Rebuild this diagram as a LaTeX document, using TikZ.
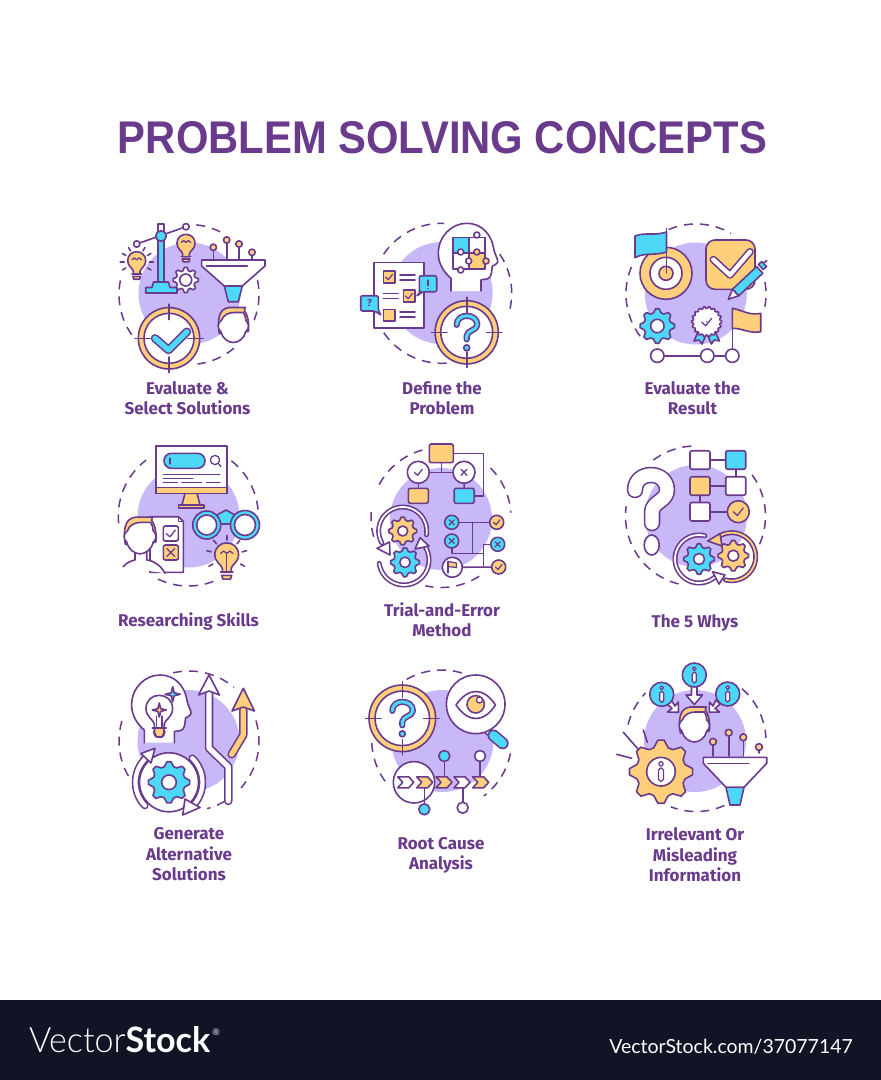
\documentclass[tikz,border=0pt]{standalone}
\usepackage{fontspec}
\usepackage{graphicx}
\setmainfont{Fira Sans}
\newfontfamily\ttlfont{Liberation Sans}
\newfontfamily\logofont{Lato}
\newfontfamily\logolight{Lato Light}
\definecolor{pur}{HTML}{6A3A8C}
\definecolor{cy}{HTML}{4ED8F8}
\definecolor{ye}{HTML}{FFCF7B}
\definecolor{lav}{HTML}{C9B8F7}
\definecolor{foot}{HTML}{111425}
\tikzset{
 ln/.style={draw=pur,line width=1.6pt,line join=round,line cap=round},
 thn/.style={draw=pur,line width=1.25pt,line join=round,line cap=round},
 dsh/.style={draw=pur,line width=1.5pt,dash pattern=on 9pt off 7pt},
 lab/.style={text=pur,inner sep=0pt,align=center,font=\fontsize{17}{20.5}\selectfont\bfseries},
 fbox/.style={ln,rectangle,rounded corners=2pt,inner sep=0pt,minimum width=#1},
 fbox/.default=20pt,
 cnode/.style={ln,circle,inner sep=0pt,minimum size=#1},
}
% arc as a plot, angles clockwise on the page from the right
\newcommand\arcp[5]{plot[domain=#4:#5,samples=40]({#1+#3*cos(\x)},{#2+#3*sin(\x)})}
\newcommand\ol[3]{\draw[pur,line width=#2pt,line cap=round,line join=round] #3; \draw[#1,line width=#2pt-3.2pt,line cap=round,line join=round] #3;}
\newcommand\blob[2]{\fill[lav] (#1,#2) circle[radius=51pt];}
\newcommand\dc[3]{\foreach \aa/\bb in {#3}{\draw[dsh] \arcp{#1}{#2}{70}{\aa}{\bb};}}
\newcommand\iGear[7]{% cx cy R r hole n fill
 \pgfmathtruncatemacro\gN{4*#6-1}
 \draw[ln,fill=#7] plot[samples at={0,1,...,\gN}]
  ({#1+ifthenelse(mod(\x,4)<1.5,#3,#4)*cos(\x*90/#6-45/#6)},{#2+ifthenelse(mod(\x,4)<1.5,#3,#4)*sin(\x*90/#6-45/#6)}) -- cycle;
 \draw[ln,fill=white] (#1,#2) circle[radius=#5pt];}
\newcommand\iTarget[4]{%
 \draw[ln,fill=ye] (#1,#2) circle[radius=#3pt];
 \draw[ln,fill=white] (#1,#2) circle[radius=#4pt];
 \foreach \aa in {0,90,180,270}{\draw[ln] ({#1+(#3+3.5)*cos(\aa)},{#2+(#3+3.5)*sin(\aa)}) -- ({#1+(#3-12)*cos(\aa)},{#2+(#3-12)*sin(\aa)});}}
\newcommand\iBulb[4]{\begin{scope}[shift={(#1,#2)},scale=#3]
 \draw[ln,fill=#4] (-3.5,13) -- (-3.5,10) .. controls (-4,7) and (-9.5,5) .. (-9.5,-1) .. controls (-9.5,-7) and (-5,-10.5) .. (0,-10.5) .. controls (5,-10.5) and (9.5,-7) .. (9.5,-1) .. controls (9.5,5) and (4,7) .. (3.5,10) -- (3.5,13) -- cycle;
 \draw[ln] (-5,13) -- (5,13);
 \draw[ln,fill=#4] (-4,15.5) -- (4,15.5) -- (3,18.5) -- (-3,18.5) -- cycle;
\end{scope}}
\newcommand\iFil[3]{\begin{scope}[shift={(#1,#2)},scale=#3]
 \draw[thn] (-5,-2) -- (-2.5,-4) -- (0,-2) -- (2.5,-4) -- (5,-2);
\end{scope}}
\newcommand\iPerson[3]{\begin{scope}[shift={(#1,#2)},scale=#3]
 \draw[ln,fill=ye] (-14,8) .. controls (-16,-5) and (-15,-17) .. (-4,-18) -- (12,-18) -- (11,-15) .. controls (15,-10) and (16,0) .. (15,6) -- cycle;
 \draw[ln,fill=white] (-12,-5) .. controls (-10,-11) and (-4,-13) .. (1,-13) -- (10,-13) .. controls (12,-10) and (12.5,-7) .. (12.5,-5) .. controls (16,-3) and (16,4) .. (12.5,6) .. controls (11,13) and (5,17) .. (0,17) .. controls (-5,17) and (-11,13) .. (-12.5,6) .. controls (-16,4) and (-16,-3) .. (-12,-5) -- cycle;
\end{scope}}
\newcommand\iHead[2]{\begin{scope}[shift={(#1,#2)}]
 \draw[ln,fill=white] (-15.7,67.7) -- (-15.7,55) .. controls (-23,49) and (-28.4,40) .. (-28.4,30) .. controls (-28.4,13) and (-15,0) .. (0,0) .. controls (14,0) and (24,10) .. (26.6,23.4) .. controls (27,30) and (32,36) .. (31,39) .. controls (30,42) and (26,42) .. (25.5,43) .. controls (25,48) and (25,54) .. (21,55.5) -- (14.3,56.5) -- (14.3,67.7);
\end{scope}}
\newcommand\iFunnel[4]{\begin{scope}[shift={(#1,#2)}]
 \draw[ln,fill=white] (-31.7,0) -- (31.7,0) -- (31.7,6) -- (9,#3) -- (-9,#3) -- (-31.7,6) -- cycle;
 \draw[ln,fill=cy] (-9,#3) -- (9,#3) -- (5,#4) -- (-5,#4) -- cycle;
 \draw[ln] (-27,6) -- (14,6);
\end{scope}}
\newcommand\iBall[4]{\draw[ln] (#1,#2) -- (#1,#3); \draw[ln,fill=ye] (#1,#2) circle[radius=#4pt];}
\newcommand\iQ[3]{\begin{scope}[shift={(#1,#2)},scale=#3]
 \ol{cy}{6.2}{(-10,-7.5) .. controls (-10,-13) and (-5.5,-16.5) .. (0,-16.5) .. controls (6,-16.5) and (10.6,-13) .. (10.6,-7.5) .. controls (10.6,-2) and (0,-2) .. (0,3.5) -- (0,7)}
 \draw[ln,fill=cy] (0,15.5) circle[radius=3pt];
\end{scope}}
\newcommand\ck[3]{\draw[thn] ({#1-#3},#2) -- ({#1-.2*#3},{#2+.75*#3}) -- ({#1+#3},{#2-.75*#3});}
\newcommand\xm[3]{\draw[thn] ({#1-#3},{#2-#3}) -- ({#1+#3},{#2+#3}) ({#1-#3},{#2+#3}) -- ({#1+#3},{#2-#3});}
\newcommand\iStar[4]{\begin{scope}[shift={(#1,#2)},scale=#3]
 \draw[ln,fill=#4] (0,-1) -- (.2,-.2) -- (1,0) -- (.2,.2) -- (0,1) -- (-.2,.2) -- (-1,0) -- (-.2,-.2) -- cycle;
\end{scope}}
\newcommand\iInfo[3]{\begin{scope}[shift={(#1,#2)},scale=#3]
 \draw[thn,fill=white] (0,-6.5) circle[radius=1.8pt];
 \draw[thn,fill=white,rounded corners=1.9pt] (-2,-3) rectangle (2,8);
\end{scope}}
\newcommand\iChev[3]{\draw[ln,fill=#3] (#1,{#2-5.5}) -- ({#1+11},{#2-5.5}) -- ({#1+16},#2) -- ({#1+11},{#2+5.5}) -- (#1,{#2+5.5}) -- ({#1+5},#2) -- cycle;}
\begin{document}
\begin{tikzpicture}[x=1pt,y=-1pt]
\useasboundingbox (0,0) rectangle (881,1080);
\fill[white] (0,0) rectangle (881,1080);
\fill[foot] (0,1000) rectangle (881,1080);

% ---------- titles ----------
\node[inner sep=0pt,anchor=south,text=pur] (title) at (442.5,154.5) {\resizebox{649pt}{32pt}{\ttlfont\bfseries PROBLEM SOLVING CONCEPTS}};
\node[lab] (t1) at (187.5,398) {Evaluate \&\\Select Solutions};
\node[lab] (t2) at (442,398) {Define the\\Problem};
\node[lab] (t3) at (692.5,398) {Evaluate the\\Result};
\node[lab] (t4) at (188.5,621) {Researching Skills};
\node[lab] (t5) at (442,619.5) {Trial-and-Error\\Method};
\node[lab] (t6) at (695,622.5) {The 5 Whys};
\node[lab] (t7) at (189,854.5) {Generate\\Alternative\\Solutions};
\node[lab] (t8) at (441,855.5) {Root Cause\\Analysis};
\node[lab] (t9) at (695,855) {Irrelevant Or\\Misleading\\Information};
\node[inner sep=0pt,anchor=south west,text=white] (logo) at (29,1053.3) {\resizebox{181pt}{26pt}{{\logolight Vector}{\logofont\bfseries Stock}}};
\node[inner sep=0pt,text=white,font=\logofont\fontsize{9}{9}\selectfont] (reg) at (216,1032) {®};
\node[inner sep=0pt,anchor=base east,text=white] (vsurl) at (853,1053.3) {\resizebox{243.5pt}{!}{\logofont VectorStock.com/37077147}};

% ---------- 1 Evaluate & Select ----------
\blob{189.5}{293.5}
\dc{189}{294.5}{-84/-62,-12/22,50/83,145/195}
\iGear{185.7}{280}{12.7}{9.6}{6}{8}{white}
% lever
\draw[ln] (136.7,244) -- (186,226.7);
\draw[ln,fill=white] (158,224) rectangle (164,232);
\draw[ln,fill=cy] (158,232) rectangle (164,282);
\draw[ln,fill=cy] (153.5,282) -- (168.5,282) -- (170,287.5) -- (177,287.5) -- (177,293) -- (145.7,293) -- (145.7,287.5) -- (152,287.5) -- cycle;
\draw[ln,fill=cy] (161,236) circle[radius=5.3pt];
\draw[ln,fill=white] (136.7,244) circle[radius=3.2pt];
\draw[ln,fill=white] (186,226.7) circle[radius=3.2pt];
\iBulb{136.7}{261.7}{.95}{ye}\iFil{136.7}{261.7}{.95}
\iBulb{186}{244.3}{.95}{ye}\iFil{186}{244.3}{.95}
\foreach \aa in {150,180,210,-30,0,30,-60,-120}{\draw[ln] ({136.7+12.5*cos(\aa)},{261.7+12.5*sin(\aa)}) -- ({136.7+16.5*cos(\aa)},{261.7+16.5*sin(\aa)});}
% funnel
\iBall{213.3}{247.3}{259}{3.2}
\iBall{226.7}{240}{259}{3.2}
\iBall{239}{244}{259}{3.2}
\iBall{252}{252.3}{259}{3.2}
\iFunnel{233.3}{260}{26}{41.7}
\iPerson{233.3}{325.5}{1}
\iTarget{169}{338.3}{30.7}{25}
\ol{cy}{8.5}{(155,338.3) -- (168.5,350) -- (187,331.7)}

% ---------- 2 Define the Problem ----------
\blob{441.7}{293}
\dc{441.7}{293.3}{-146/-88,-34/14,86/147}
\draw[ln,fill=white] (374,262.3) rectangle (424,327.7);
\draw[ln,fill=ye] (383.3,271) rectangle (395,282.7); \ck{389}{277}{3.6}
\draw[ln] (400,275) -- (415,275) (400,280) -- (415,280);
\draw[ln] (383.3,293.3) -- (398.3,293.3) (383.3,298.3) -- (398.3,298.3);
\draw[ln,fill=ye] (403.3,290) rectangle (415,301.7); \ck{409}{296}{3.6}
\draw[ln,fill=ye] (383.3,309.3) rectangle (395,320.7);
\draw[ln] (400,311.7) -- (415,311.7) (400,316.7) -- (415,316.7);
\draw[ln,fill=cy,rounded corners=2pt] (416,296.5) -- (421,291.7) -- (419.3,291.7) -- (419.3,275.7) -- (436.7,275.7) -- (436.7,291.7) -- (423,291.7) -- cycle;
\draw[thn] (428,280) -- (428,285.5); \fill[pur] (428,288.5) circle[radius=.9pt];
\draw[ln,fill=cy,rounded corners=2pt] (381.5,315.5) -- (375,311) -- (360.7,311) -- (360.7,295.7) -- (378.3,295.7) -- (378.3,311) -- cycle;
\node[text=pur,inner sep=0pt,font=\fontsize{10}{10}\selectfont\bfseries] (q2) at (369.5,303.3) {?};
\iHead{466.7}{223.3}
\draw[ln,fill=cy] (452.7,237.3) rectangle (468.7,253);
\draw[ln,fill=white] (468.7,237.3) rectangle (485,253);
\draw[ln,fill=white] (452.7,253) rectangle (468.7,269);
\draw[ln,fill=ye] (468.7,253) rectangle (485,269);
\draw[ln,fill=white] (476.8,235) circle[radius=3pt];
\draw[ln,fill=ye] (476.8,252) circle[radius=3pt];
\draw[ln,fill=white] (460.7,252) circle[radius=3pt];
\draw[ln,fill=ye] (486,261) circle[radius=3pt];
\draw[ln,fill=white] (468.7,261) circle[radius=3pt];
\draw[ln,fill=white] (460.7,270) circle[radius=3pt];
\iTarget{466.7}{332.3}{31.6}{26}
\iQ{466.7}{332.3}{1}

% ---------- 3 Evaluate the Result ----------
\blob{695.8}{293.5}
\dc{696}{294}{-113/-60,-10/14,143/206}
\draw[ln,fill=ye] (666,273.3) circle[radius=26pt];
\draw[ln,fill=white] (666,273.3) circle[radius=16pt];
\draw[ln,fill=ye] (666,273.3) circle[radius=7pt];
\draw[ln] (666.5,228.3) -- (666.5,273);
\draw[ln,fill=cy] (635,236) .. controls (645,232) and (655,236) .. (666.5,232) -- (666.5,252) .. controls (655,256) and (645,252) .. (635,257.7) -- cycle;
\draw[ln,fill=ye,rounded corners=9pt] (706,240) rectangle (755,289.3);
\ol{white}{7.5}{(713.3,259.5) -- (730,275) -- (750,251.7)}
% pen
\draw[ln,fill=cy] (738.7,295.8) -- (732.5,289.2) -- (756.6,266.6) -- (762.8,273.2) -- cycle;
\draw[ln,fill=white] (728.3,299.3) -- (738.7,295.8) -- (732.5,289.2) -- cycle;
\draw[ln,fill=cy] (758.5,264.5) -- (763.3,269.5) -- (766.5,266.5) -- (761.7,261.5) -- cycle;
\draw[ln] (764,263) -- (766.7,260.5);
\iGear{657.3}{326}{17.3}{13.6}{6.7}{8}{cy}
\draw[ln,fill=cy] (698,332) -- (694,341) -- (699,340) -- (702,344) -- (706,335) -- cycle;
\draw[ln,fill=cy] (715.4,332) -- (719.4,341) -- (714.4,340) -- (711.4,344) -- (707.4,335) -- cycle;
\iGear{706.7}{321.7}{15}{13.4}{0}{18}{white}
\ck{706.7}{322}{5}
\node[cnode=13.4pt,fill=white] (p1) at (657.3,355.7) {};
\node[cnode=13.4pt,fill=white] (p2) at (707.3,355.7) {};
\node[cnode=13.4pt,fill=white] (p3) at (732.3,355.7) {};
\draw[ln] (p1) -- (p2);
\draw[ln] (p2) -- (p3);
\draw[ln] (732.3,308.3) -- (p3);
\draw[ln,fill=ye] (732.3,308.3) .. controls (742,310) and (750,316) .. (760.7,313.3) -- (760.7,331.7) .. controls (750,334) and (742,328) .. (732.3,328.3) -- cycle;

% ---------- 4 Researching Skills ----------
\blob{188.5}{516.5}
\dc{188.3}{516}{-186/-127,-52/-3,69/117}
\draw[ln,fill=ye] (185,493.3) -- (197,493.3) -- (200,505) -- (182,505) -- cycle;
\draw[ln,fill=ye] (178.3,505) rectangle (204,508);
\draw[ln,fill=white] (156,446) rectangle (226.7,493.3);
\draw[ln,fill=ye] (156,487.3) rectangle (226.7,493.3);
\draw[ln,fill=cy,rounded corners=7.4pt] (164,453.3) rectangle (205,468.3);
\draw[thn] (170,458) -- (170,464);
\draw[thn] (215,460) circle[radius=4.6pt];
\draw[thn] (218.3,463.3) -- (221,466.7);
\draw[thn] (163.3,474.3) -- (220,474.3);
\draw[thn] (163.3,478.3) -- (192.7,478.3);
\draw[thn] (163.3,482.7) -- (177.3,482.7) (181.7,482.7) -- (201.7,482.7) (206.7,482.7) -- (220,482.7);
\draw[ln,fill=white] (150,516.7) -- (178.5,516.7) -- (183.3,521.5) -- (183.3,572.3) -- (150,572.3) -- cycle;
\draw[ln] (178.5,516.7) -- (178.5,521.5) -- (183.3,521.5);
\draw[ln,fill=white,rounded corners=2pt] (163.3,526) rectangle (178.3,541); \ck{170.8}{533.5}{4.5}
\draw[ln,fill=ye,rounded corners=2pt] (163.3,545) rectangle (178.3,560); \xm{170.8}{552.5}{4}
\draw[ln,fill=white] (123.3,566.7) .. controls (127,562) and (131,561) .. (135,560) -- (135,552) -- (146.7,552) -- (146.7,560) .. controls (155,561) and (161,566) .. (165,573.3);
\iPerson{140}{536}{1.05}
\draw[ln,fill=cy] (216.7,515) -- (226,510) -- (235,515) -- (231,524) -- (221,524) -- cycle;
\draw[ln,fill=cy] (206.7,525) circle[radius=14pt];
\draw[ln,fill=white] (206.7,525) circle[radius=10pt];
\draw[ln,fill=cy] (245,525) circle[radius=14.5pt];
\draw[ln,fill=white] (245,525) circle[radius=10.5pt];
\iBulb{226.7}{556}{1.25}{ye}\iFil{226.7}{556}{1.25}
\foreach \aa in {-90,-50,-130,-15,195,30,150}{\draw[ln] ({226.7+16*cos(\aa)},{556+16*sin(\aa)}) -- ({226.7+20.5*cos(\aa)},{556+20.5*sin(\aa)});}
\draw[thn] (226.7,553) -- (226.7,572);

% ---------- 5 Trial and Error ----------
\blob{441}{519}
\dc{441}{517.5}{-152/-102,-45/-4,164/189,57/103}
\node[fbox=24pt,minimum height=18.7pt,fill=ye] (f1) at (441.3,453.3) {};
\node[cnode=22pt,fill=white] (f2) at (418.3,472.3) {};
\node[cnode=22pt,fill=white] (f3) at (464,472.3) {};
\node[fbox=20pt,minimum height=15pt,fill=ye] (f4) at (418.3,495.8) {};
\node[fbox=20pt,minimum height=15pt,fill=cy] (f5) at (464.2,495.8) {};
\coordinate (fk) at (483.3,453.3);
\coordinate (fj) at (441.3,472.3);
\draw[ln] (f2) -- (f3);
\draw[ln] (f1) -- (fj);
\draw[ln] (f2) -- (f4);
\draw[ln] (f3) -- (f5);
\draw[ln] (f1.east) -- (fk) |- (f5.east);
\ck{418.3}{472.3}{4}
\xm{464}{472.3}{3}
\iGear{402.7}{531}{14}{11}{5}{8}{ye}
\iGear{405}{562.3}{14.5}{11.4}{5.2}{8}{cy}
\ol{white}{5}{\arcp{402.7}{531}{24}{9}{-210}}
\draw[ln,fill=white] (390,555) -- (377,548.3) -- (389.5,542) -- cycle;
\ol{white}{5}{\arcp{404}{560}{25}{172}{-30}}
\draw[ln,fill=white] (420,537.7) -- (415,549) -- (429,546) -- cycle;
\node[cnode=14pt,fill=cy] (x1) at (451.7,522.3) {};
\node[cnode=14pt,fill=cy] (x2) at (451.7,541) {};
\node[cnode=14pt,fill=ye] (y1) at (496.7,522.3) {};
\node[cnode=14pt,fill=cy] (x3) at (497.7,544.3) {};
\node[cnode=14pt,fill=ye] (y2) at (498.7,567) {};
\node[cnode=20pt,fill=white] (fg) at (452.3,567.3) {};
\coordinate (j1) at (472.3,522.3);
\coordinate (j2) at (472.3,553.3);
\coordinate (j3) at (483.3,553.3);
\coordinate (j4) at (483.3,544.3);
\coordinate (j5) at (483.3,567);
\draw[ln] (x1) -- (y1);
\draw[ln] (j1) -- (j2);
\draw[ln] (x2) |- (j3);
\draw[ln] (x3) -- (j4) -- (j5);
\draw[ln] (fg) -- (y2);
\xm{451.7}{522.3}{2.6}
\xm{451.7}{541}{2.6}
\xm{497.7}{544.3}{2.6}
\ck{496.7}{522.3}{3.2}
\ck{498.7}{567}{3.2}
\draw[thn,fill=ye] (448,561.5) -- (456.5,563) -- (456.5,567.5) -- (448,566.5) -- cycle;
\draw[thn] (448,561.5) -- (448,573);

% ---------- 6 The 5 Whys ----------
\blob{696}{516}
\dc{695.5}{516}{-127/-92,-36/24,104/188}
\ol{white}{16.5}{(635,490) .. controls (635,480) and (643,475) .. (651,475) .. controls (660,475) and (667,481) .. (667,490) .. controls (667,501) and (652,502) .. (652,512) -- (652,523)}
\draw[ln,fill=white] (651.7,545) ellipse[x radius=7.5pt,y radius=10pt];
\node[fbox=20pt,minimum height=18.5pt,fill=white] (w1) at (700,460) {};
\node[fbox=20pt,minimum height=18.5pt,fill=cy] (w2) at (735.7,460) {};
\node[fbox=20pt,minimum height=18.5pt,fill=ye] (w3) at (700,486) {};
\node[fbox=20pt,minimum height=18.5pt,fill=white] (w4) at (735.7,486) {};
\node[fbox=20pt,minimum height=18.5pt,fill=white] (w5) at (700,511.7) {};
\node[cnode=22pt,fill=ye] (w6) at (738.3,511.7) {};
\draw[ln] (w1) -- (w2);
\draw[ln] (w2) -- (w4);
\draw[ln] (w3) -- (w4);
\draw[ln] (w3) -- (w5);
\draw[ln] (w5) -- (w6);
\ck{738.3}{511.7}{5}
\iGear{699}{559}{15.3}{12}{5.5}{8}{cy}
\iGear{733.3}{555.7}{15.3}{12}{5.5}{8}{ye}
\ol{ye}{5}{\arcp{731.7}{556.7}{24}{105}{-122}}
\draw[ln,fill=ye] (707.7,541) -- (720,533.5) -- (722,546) -- cycle;
\ol{white}{5}{\arcp{699}{559}{24}{-76}{-312}}
\draw[ln,fill=white] (725,575) -- (712.5,571.7) -- (719,584) -- cycle;

% ---------- 7 Generate Alternative ----------
\blob{188.5}{741}
\dc{189}{741}{-103/-50,-17/42,59/75,150/200}
\iHead{160}{675}
\iBulb{159.3}{710}{1.4}{white}
\draw[ln,fill=ye] (154.5,728) -- (164,728) -- (164,733) -- (162,737) -- (156.5,737) -- (154.5,733) -- cycle;
\draw[thn] (156.5,716) -- (156.5,728) (162,716) -- (162,728);
\iStar{159.3}{710}{7}{ye}
\iStar{172.7}{694.3}{7.5}{cy}
\draw[ln,fill=white] (169,782.3) circle[radius=29.5pt];
\iGear{169}{782.3}{20.7}{16.3}{7.3}{8}{cy}
\ol{white}{7.5}{\arcp{169}{782.3}{33.5}{136}{228}}
\draw[ln,fill=white] (155,748.3) -- (141,753.5) -- (151,763) -- cycle;
\ol{white}{7.5}{\arcp{169}{782.3}{33.5}{-46}{45}}
\draw[ln,fill=white] (182.7,815) -- (185,799) -- (200,807.5) -- cycle;
\ol{white}{8.5}{(209,693) -- (209,748) -- (228.3,766.7) -- (228.3,801)}
\draw[ln,fill=white] (209,675) -- (219.5,695) -- (209,691) -- (198.5,695) -- cycle;
\ol{ye}{8.5}{(243.3,710) -- (243.3,735) -- (231.7,754.3)}
\draw[ln,fill=ye] (243.3,688.3) -- (254.5,711) -- (243.3,707) -- (232,711) -- cycle;

% ---------- 8 Root Cause ----------
\blob{442.5}{741}
\dc{441.7}{740}{-120/-72,144/180,11/53}
\iTarget{402.3}{718.3}{33.3}{27.3}
\iQ{402.3}{718.3}{1}
\ol{white}{6}{(484,729.3) -- (491.7,735)}
\ol{cy}{12}{(493.5,735.5) -- (502.7,743.3)}
\draw[ln,fill=white] (475.7,704.3) circle[radius=29.3pt];
\draw[ln,fill=white] (456,705) .. controls (463,695) and (470,691.5) .. (475.7,691.5) .. controls (482,691.5) and (489,695) .. (495.5,705) .. controls (489,715) and (482,718.5) .. (475.7,718.5) .. controls (470,718.5) and (463,715) .. (456,705) -- cycle;
\draw[ln,fill=ye] (475.7,704.3) circle[radius=8.7pt];
\draw[thn,fill=white] (479.5,700) circle[radius=3pt];
\draw[ln,fill=white] (414,782.3) circle[radius=20.7pt];
\draw[ln] (444.3,756) -- (444.3,776.7);
\draw[ln] (480,756) -- (480,776.7);
\draw[ln] (424.3,788) -- (424.3,809.3);
\draw[ln] (462.7,788) -- (462.7,807.7);
\iChev{397.7}{782.3}{white}
\iChev{416.7}{782.3}{ye}
\iChev{436}{782.3}{ye}
\iChev{454}{782.3}{white}
\iChev{472.7}{782.3}{ye}
\draw[ln,fill=cy] (444.3,756) circle[radius=5.5pt];
\draw[ln,fill=white] (480,756) circle[radius=5.5pt];
\draw[ln,fill=cy] (424.3,809.3) circle[radius=5.5pt];
\draw[ln,fill=white] (462.7,807.7) circle[radius=5.5pt];

% ---------- 9 Irrelevant ----------
\blob{695}{741}
\dc{696}{741.5}{-166/-136,-49/-3,66/111}
\draw[ln] (643.3,730) -- (647.3,742.3);
\draw[ln] (623.3,732.3) -- (638.3,749.3);
\draw[ln] (616.7,754.3) -- (631.7,758.3);
\iPerson{694.3}{725}{1}
\draw[ln,fill=white] (691.5,686) -- (697,686) -- (697,695) -- (702.5,695) -- (694.3,704.5) -- (686,695) -- (691.5,695) -- cycle;
\draw[ln,fill=white] (671,700) -- (667,704) -- (672,708.5) -- (667.5,712) -- (678.5,712.3) -- (678.3,702) -- (675,706) -- cycle;
\draw[ln,fill=white] (716,700) -- (720,704) -- (715,708.5) -- (719.5,712) -- (709.3,712.3) -- (709.5,702) -- (713,706) -- cycle;
\draw[ln,fill=cy] (694.3,675) circle[radius=12pt];
\draw[ln,fill=cy] (661.7,694.3) circle[radius=12pt];
\draw[ln,fill=cy] (727.7,694) circle[radius=12pt];
\iInfo{694.3}{675}{1}
\iInfo{661.7}{694.3}{1}
\iInfo{727.7}{694}{1}
\iBall{713}{741.7}{756}{3.4}
\iBall{728.7}{732.7}{756}{3.4}
\iBall{743.3}{737.3}{756}{3.4}
\iBall{759}{747}{753}{3.4}
\iFunnel{735}{757.3}{30}{47.7}
\iGear{661}{771.7}{31.7}{25}{14.3}{8}{ye}
\iInfo{661}{771.7}{1.2}
\end{tikzpicture}
\end{document}
